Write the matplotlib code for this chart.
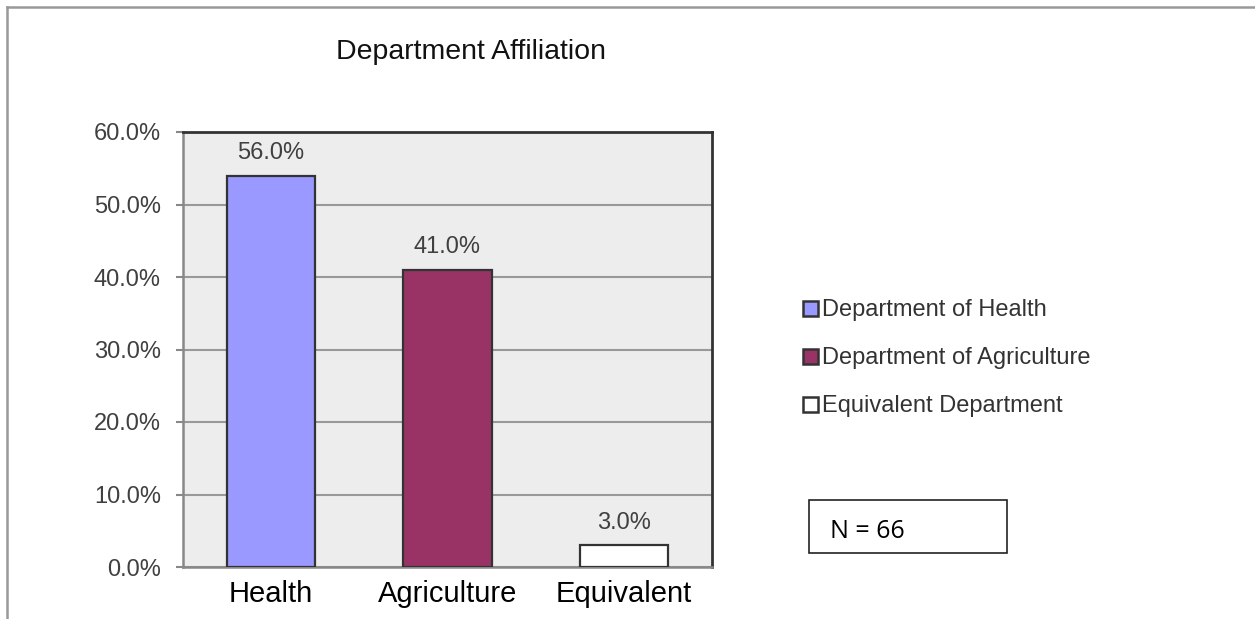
import matplotlib
matplotlib.use("Agg")
import matplotlib.pyplot as plt
from matplotlib.lines import Line2D
from matplotlib.patches import Rectangle

# data
categories = ["Health", "Agriculture", "Equivalent"]
bar_heights = [54.0, 41.0, 3.0]          # drawn heights (%)
bar_labels = ["56.0%", "41.0%", "3.0%"]  # printed labels
legend_names = ["Department of Health", "Department of Agriculture", "Equivalent Department"]
bar_colors = ["#9999FF", "#993366", "#FFFFFF"]
y_ticks = [0, 10, 20, 30, 40, 50, 60]
sample_note = "N = 66"

plt.rcParams['font.family'] = ['Liberation Sans', 'DejaVu Sans']

W, H = 1255, 619
fig = plt.figure(figsize=(W / 100, H / 100), dpi=100)
fig.patch.set_facecolor("white")

# axes box in pixel terms
left, right, top, bottom = 183, 712, 132, 567
ax = fig.add_axes([left / W, 1 - bottom / H, (right - left) / W, (bottom - top) / H])
ax.set_facecolor("#EDEDED")

x = range(len(categories))
bars = ax.bar(x, bar_heights, width=0.5, color=bar_colors, edgecolor="#333333",
              linewidth=1.6, zorder=3)

for rect, txt in zip(bars, bar_labels):
    ax.annotate(txt, (rect.get_x() + rect.get_width() / 2, rect.get_height()),
                xytext=(0, 12), textcoords="offset points", ha="center", va="baseline",
                fontsize=17, color="#404040")

ax.set_xlim(-0.5, 2.5)
ax.set_ylim(0, 60)
ax.set_yticks(y_ticks)
ax.set_yticklabels(["%.1f%%" % v for v in y_ticks], fontsize=17, color="#404040")
ax.set_xticks(list(x))
ax.set_xticklabels(categories, fontsize=21, color="black")
ax.tick_params(axis="y", length=5, width=1.5, color="#888888", pad=11)
ax.tick_params(axis="x", length=0, pad=9)
ax.yaxis.grid(True, color="#999999", linewidth=1.5, zorder=0)
ax.set_axisbelow(True)

for s in ["top", "right"]:
    ax.spines[s].set_color("#333333")
    ax.spines[s].set_linewidth(2)
for s in ["left", "bottom"]:
    ax.spines[s].set_color("#888888")
    ax.spines[s].set_linewidth(1.8)

fig.text(471 / W, 1 - 52 / H, "Department Affiliation", ha="center", va="center",
         fontsize=20.5, color="#111111")

leg = fig.legend(bars.patches, legend_names, loc="upper left",
                 bbox_to_anchor=(794 / W, 1 - 290 / H), frameon=False,
                 fontsize=17, handlelength=0.6, handleheight=0.6,
                 handletextpad=0.2, labelspacing=1.1, borderaxespad=0)
for t in leg.get_texts():
    t.set_color("#333333")
for h in leg.legend_handles:
    h.set_linewidth(1.8)

# N box
fig.patches.append(Rectangle((809 / W, 1 - 553 / H), 198 / W, 53 / H,
                             transform=fig.transFigure, facecolor="white",
                             edgecolor="#222222", linewidth=1.2))
fig.text(830 / W, 1 - 531 / H, sample_note, ha="left", va="center",
         fontsize=18, color="black", family=["Open Sans", "DejaVu Sans"])

# outer chart border (top and left only)
fig.lines.append(Line2D([7 / W, 1], [1 - 7 / H, 1 - 7 / H], transform=fig.transFigure,
                        color="#999999", linewidth=1.8))
fig.lines.append(Line2D([7 / W, 7 / W], [0, 1 - 7 / H], transform=fig.transFigure,
                        color="#999999", linewidth=1.8))

fig.savefig("out.png", dpi=100)
